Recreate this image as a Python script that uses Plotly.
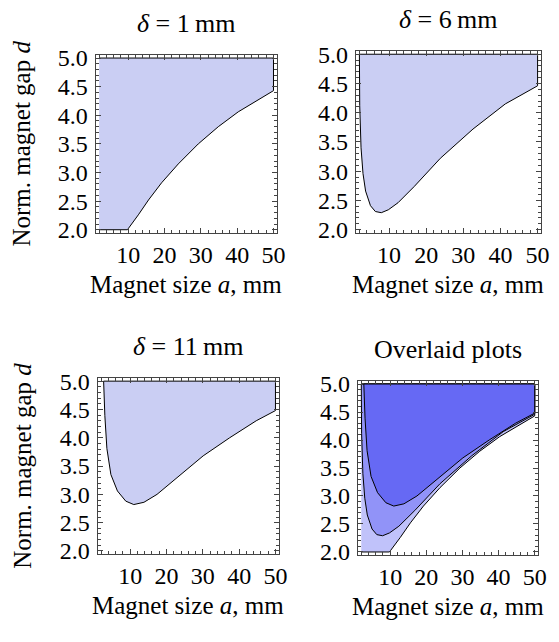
import plotly.graph_objects as go

W, H = 559, 642

A_MIN, A_MAX = 2.0, 50.0
D_MIN, D_MAX = 2.0, 5.0

# boundary curve d(a) for delta = 1 mm (region lies above the curve)
a_delta1 = [9.8, 12.8, 15.6, 19.2, 23.8, 29.3, 34.8, 40.3, 45.8, 50.0]
d_delta1 = [2.0, 2.26, 2.52, 2.82, 3.15, 3.50, 3.80, 4.06, 4.27, 4.43]

# delta = 6 mm
a_delta6 = [2.0, 2.09, 2.44, 2.97, 3.67, 4.98, 6.3, 7.9, 9.8, 12.4, 16.8, 23.8, 32.6, 41.3, 50.0]
d_delta6 = [5.0, 4.12, 3.40, 2.96, 2.66, 2.41, 2.31, 2.29, 2.34, 2.46, 2.74, 3.22, 3.72, 4.15, 4.46]

# delta = 11 mm
a_delta11 = [2.7, 3.04, 3.6, 4.7, 6.5, 8.8, 11.0, 13.8, 17.4, 22.9, 30.1, 37.4, 44.7, 50.0]
d_delta11 = [5.0, 4.39, 3.81, 3.35, 3.06, 2.88, 2.82, 2.86, 3.00, 3.30, 3.68, 4.00, 4.30, 4.48]

x_ticks = [10, 20, 30, 40, 50]
y_ticks = [2.0, 2.5, 3.0, 3.5, 4.0, 4.5, 5.0]

titles = ["<i>δ</i> = 1\u2009mm", "<i>δ</i> = 6\u2009mm", "<i>δ</i> = 11\u2009mm", "Overlaid plots"]
x_title = "Magnet size <i>a</i>, mm"
y_title = "Norm. magnet gap <i>d</i>"

FILL_SINGLE = "#CACEF3"
FILL_OV = ["#C0C2FA", "#9193F8", "#6669F4"]
FONT = "Liberation Serif"

# panel boxes in pixels: left, right, top, bottom
panels = [(97, 281, 47, 231), (361, 549, 43, 231), (99, 283, 380, 562), (363, 546, 383, 563)]


def region1():
    return [A_MIN] + a_delta1 + [A_MAX, A_MIN], [D_MIN] + d_delta1 + [D_MAX, D_MAX]


def region_u(a, d):
    return a + [A_MAX, a[0]], d + [D_MAX, d[0]]


fig = go.Figure()
pad_a = 0.02 * (A_MAX - A_MIN)
pad_d = 0.02 * (D_MAX - D_MIN)

regions = [region1(), region_u(a_delta6, d_delta6), region_u(a_delta11, d_delta11)]

for i in range(4):
    xa = "x" if i == 0 else f"x{i+1}"
    ya = "y" if i == 0 else f"y{i+1}"
    if i < 3:
        rx, ry = regions[i]
        fig.add_trace(go.Scatter(x=rx, y=ry, xaxis=xa, yaxis=ya, mode="lines", fill="toself",
                                 fillcolor=FILL_SINGLE, line=dict(color="black", width=1),
                                 hoverinfo="skip", showlegend=False))
    else:
        for k, (rx, ry) in enumerate(regions):
            fig.add_trace(go.Scatter(x=rx, y=ry, xaxis=xa, yaxis=ya, mode="lines", fill="toself",
                                     fillcolor=FILL_OV[k], line=dict(color="black", width=1),
                                     hoverinfo="skip", showlegend=False))

axis_common = dict(showline=True, mirror="ticks", linecolor="#444", linewidth=1, ticks="inside",
                   tickcolor="#444", ticklen=5, tickwidth=1, showgrid=False, zeroline=False,
                   tickfont=dict(family=FONT, size=24, color="black"))

layout = dict(width=W, height=H, margin=dict(l=0, r=0, t=0, b=0), plot_bgcolor="white",
              paper_bgcolor="white", showlegend=False)
annotations = []
for i, (l, r, t, b) in enumerate(panels):
    xk = "xaxis" if i == 0 else f"xaxis{i+1}"
    yk = "yaxis" if i == 0 else f"yaxis{i+1}"
    yanchor_name = "y" if i == 0 else f"y{i+1}"
    xanchor_name = "x" if i == 0 else f"x{i+1}"
    layout[xk] = dict(axis_common, domain=[l / W, r / W], anchor=yanchor_name,
                      range=[A_MIN - pad_a, A_MAX + pad_a], tickvals=x_ticks, ticklabelstandoff=0,
                      minor=dict(ticks="inside", dtick=2, ticklen=3, tickcolor="#444", showgrid=False))
    layout[yk] = dict(axis_common, domain=[1 - b / H, 1 - t / H], anchor=xanchor_name,
                      range=[D_MIN - pad_d, D_MAX + pad_d], tickvals=y_ticks, tickformat=".1f",
                      ticklabelstandoff=2,
                      minor=dict(ticks="inside", dtick=0.1, ticklen=3, tickcolor="#444", showgrid=False))
    cx = (l + r) / 2
    # panel title
    annotations.append(dict(text=titles[i], x=cx / W, y=1 - (t - 32) / H, xref="paper", yref="paper",
                            showarrow=False, xanchor="center", yanchor="middle",
                            font=dict(family=FONT, size=26, color="black")))
    # x axis title
    annotations.append(dict(text=x_title, x=cx / W, y=1 - (b + 53) / H, xref="paper", yref="paper",
                            showarrow=False, xanchor="center", yanchor="middle",
                            font=dict(family=FONT, size=25, color="black")))
    if i in (0, 2):
        annotations.append(dict(text=y_title, x=22 / W, y=1 - ((t + b) / 2) / H, xref="paper",
                                yref="paper", showarrow=False, xanchor="center", yanchor="middle",
                                textangle=-90, font=dict(family=FONT, size=25, color="black")))

layout["annotations"] = annotations
fig.update_layout(**layout)
fig.write_html("out.html", config={"displayModeBar": False},
               post_script="document.body.style.margin='0';document.body.style.overflow='hidden';")
